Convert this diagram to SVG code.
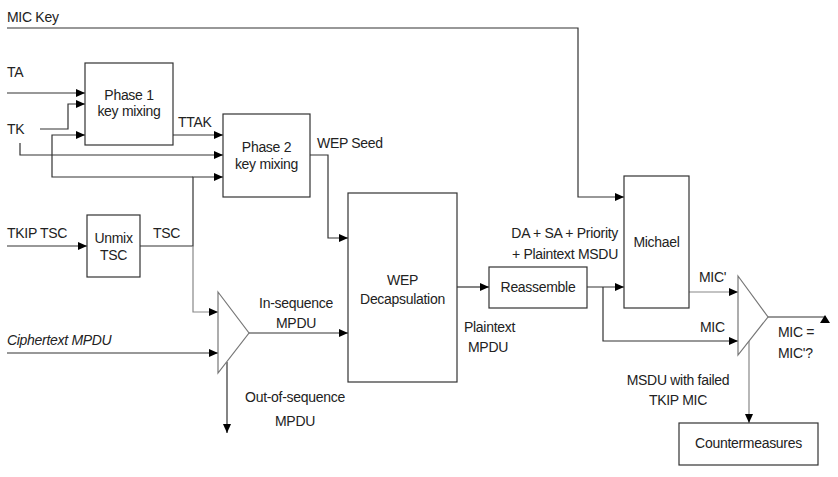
<svg xmlns="http://www.w3.org/2000/svg" width="838" height="477" viewBox="0 0 838 477">
<defs>
<style>
text{font-family:"Liberation Sans",Arial,sans-serif;font-size:14px;fill:#222;letter-spacing:-0.3px}
.m{text-anchor:middle}
.e{text-anchor:end}
.box{fill:#fff;stroke:#333;stroke-width:1.2}
.tri{fill:#fff;stroke:#777;stroke-width:1.2}
.ln{fill:none;stroke:#333;stroke-width:1.2}
.gl{fill:none;stroke:#888;stroke-width:1.2}
</style>
<marker id="ar" markerUnits="userSpaceOnUse" markerWidth="10" markerHeight="8" refX="9" refY="4" orient="auto">
<path d="M0,0 L9,4 L0,8 z" fill="#000"/>
</marker>
</defs>
<rect width="838" height="477" fill="#fff"/>
<g id="connectors">
<path class="ln" d="M7,28 H578 V197 H624" marker-end="url(#ar)"/>
<path class="ln" d="M7,93 H85" marker-end="url(#ar)"/>
<path class="ln" d="M40,129 H68 V104 H85" marker-end="url(#ar)"/>
<path class="ln" d="M20,143 V155 H223" marker-end="url(#ar)"/>
<path class="ln" d="M140,246 H193 V177 H223" marker-end="url(#ar)"/>
<path class="ln" d="M193,177 H52 V135 H85" marker-end="url(#ar)"/>
<path class="gl" d="M193,246 V312 H218" marker-end="url(#ar)"/>
<path class="ln" d="M173,135 H223" marker-end="url(#ar)"/>
<path class="ln" d="M310,155 H328 V238 H348" marker-end="url(#ar)"/>
<path class="ln" d="M7,246 H87" marker-end="url(#ar)"/>
<path class="ln" d="M7,353 H218" marker-end="url(#ar)"/>
<path class="ln" d="M249,333 H348" marker-end="url(#ar)"/>
<path class="ln" d="M227,362 V433" marker-end="url(#ar)"/>
<path class="ln" d="M457,287 H489" marker-end="url(#ar)"/>
<path class="ln" d="M587,287 H624" marker-end="url(#ar)"/>
<path class="ln" d="M603,287 V341 H738" marker-end="url(#ar)"/>
<path class="gl" d="M689,292 H738" marker-end="url(#ar)"/>
<path class="ln" d="M768,317 H826"/>
<polygon points="820,323 825,315 830,323" fill="#000"/>
<path class="gl" d="M749,341 V423" marker-end="url(#ar)"/>
</g>
<g id="labels">
<text x="7" y="22">MIC Key</text>
<text x="7" y="77">TA</text>
<text x="7" y="134">TK</text>
<text x="178" y="127">TTAK</text>
<text x="317" y="148">WEP Seed</text>
<text x="7" y="238">TKIP TSC</text>
<text x="153" y="238">TSC</text>
<text x="7" y="345" font-style="italic">Ciphertext MPDU</text>
<text class="m" x="296" y="308">In-sequence</text>
<text class="m" x="296" y="328">MPDU</text>
<text class="m" x="295" y="402">Out-of-sequence</text>
<text class="m" x="295" y="426">MPDU</text>
<text x="464" y="332">Plaintext</text>
<text x="468" y="352">MPDU</text>
<text class="e" x="618" y="238">DA + SA + Priority</text>
<text class="e" x="618" y="259">+ Plaintext MSDU</text>
<text x="699" y="282">MIC'</text>
<text x="700" y="332">MIC</text>
<text x="778" y="337">MIC =</text>
<text x="778" y="358">MIC'?</text>
<text class="m" x="678" y="385">MSDU with failed</text>
<text class="m" x="678" y="405">TKIP MIC</text>
</g>
<g id="phase1">
<rect class="box" x="85" y="63" width="88" height="82"/>
<text class="m" x="129" y="100">Phase 1</text>
<text class="m" x="129" y="116">key mixing</text>
</g>
<g id="phase2">
<rect class="box" x="223" y="114" width="87" height="83"/>
<text class="m" x="266.5" y="152">Phase 2</text>
<text class="m" x="266.5" y="169">key mixing</text>
</g>
<g id="unmix">
<rect class="box" x="87" y="215" width="53" height="62"/>
<text class="m" x="113.5" y="243">Unmix</text>
<text class="m" x="113.5" y="260">TSC</text>
</g>
<g id="wep">
<rect class="box" x="348" y="193" width="109" height="189"/>
<text class="m" x="402.5" y="285">WEP</text>
<text class="m" x="402.5" y="304">Decapsulation</text>
</g>
<g id="reassemble">
<rect class="box" x="489" y="267" width="98" height="41"/>
<text class="m" x="538" y="292">Reassemble</text>
</g>
<g id="michael">
<rect class="box" x="624" y="176" width="65" height="132"/>
<text class="m" x="656.5" y="247">Michael</text>
</g>
<g id="seqcheck">
<polygon class="tri" points="218,292 249,333 218,373"/>
</g>
<g id="miccompare">
<polygon class="tri" points="738,276 768,317 738,355"/>
</g>
<g id="countermeasures">
<rect class="box" x="679" y="423" width="139" height="42"/>
<text class="m" x="748.5" y="448">Countermeasures</text>
</g>
</svg>
